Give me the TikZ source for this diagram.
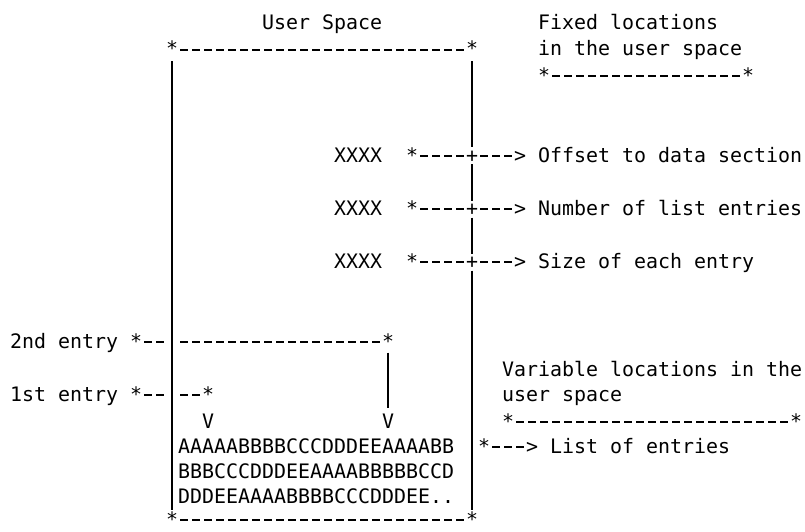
\documentclass[tikz,border=0pt]{standalone}
\usepackage{fontspec}
\usepackage{tikz}
\newfontfamily\mono{DejaVu Sans Mono}
\newcommand\asc{\mono\fontsize{19.93pt}{24pt}\selectfont}

\begin{document}
\begin{tikzpicture}[x=1pt,y=-1pt,
    every node/.style={font=\asc,inner sep=0pt},
    cell/.style={minimum width=12pt,text height=14.6pt,text depth=2pt,anchor=base},
    lowcell/.style={cell,text height=12.6pt,text depth=0pt},
    lbl/.style={anchor=base west},
    dashln/.style={line width=1.9pt,dash pattern=on 7.5pt off 4.5pt,dash phase=9.75pt},
    bar/.style={line width=2pt}]
\useasboundingbox (0,0) rectangle (805,531);

\node[lbl] (title) at (262,29.3) {User Space};
\node[lbl] (fixtxt) at (538,29.3) {Fixed locations};
\node[lbl] (fixtxt2) at (538,55.9) {in the user space};

\node[cell] (tl) at (172,55.9) {*};
\node[cell] (tr) at (472,55.9) {*};
\node[lowcell] (bl) at (172,526) {*};
\node[lowcell] (br) at (472,526) {*};
\draw[dashln] (tl.east) -- (tr.west);
\draw[dashln] (bl.east) -- (br.west);

\node[cell] (fx1) at (544,82.5) {*};
\node[cell] (fx2) at (748,82.5) {*};
\draw[dashln] (fx1.east) -- (fx2.west);

\node[lbl] (x1) at (334,162) {XXXX};
\node[cell] (s1) at (412,162) {*};
\node[cell] (p1) at (472,162) {+};
\node[cell] (g1) at (520,162) {>};
\node[lbl] (t1) at (538,162) {Offset to data section};
\node[lbl] (x2) at (334,215.3) {XXXX};
\node[cell] (s2) at (412,215.3) {*};
\node[cell] (p2) at (472,215.3) {+};
\node[cell] (g2) at (520,215.3) {>};
\node[lbl] (t2) at (538,215.3) {Number of list entries};
\node[lbl] (x3) at (334,268.5) {XXXX};
\node[cell] (s3) at (412,268.5) {*};
\node[cell] (p3) at (472,268.5) {+};
\node[cell] (g3) at (520,268.5) {>};
\node[lbl] (t3) at (538,268.5) {Size of each entry};
\draw[dashln] (s1.east) -- (p1.west);
\draw[dashln] (p1.east) -- (g1.west);
\draw[dashln] (s2.east) -- (p2.west);
\draw[dashln] (p2.east) -- (g2.west);
\draw[dashln] (s3.east) -- (p3.west);
\draw[dashln] (p3.east) -- (g3.west);

\draw[bar,shorten <=3pt,shorten >=3pt] (tl.south) -- (bl.north);
\draw[bar,shorten <=3pt] (tr.south) -- (p1.north);
\draw[bar] (p1.south) -- (p2.north);
\draw[bar] (p2.south) -- (p3.north);
\draw[bar,shorten >=3pt] (p3.south) -- (br.north);

\node[lbl] (e2txt) at (10,348.5) {2nd entry};
\node[cell] (e2s) at (136,348.5) {*};
\node[cell] (e2e) at (388,348.5) {*};
\node[lbl] (e1txt) at (10,401.7) {1st entry};
\node[cell] (e1s) at (136,401.7) {*};
\node[cell] (e1e) at (208,401.7) {*};
\draw[dashln] (e2s.east) -- (e2s.east -| tl.west);
\draw[dashln] (e2e.west -| tl.east) -- (e2e.west);
\draw[dashln] (e1s.east) -- (e1s.east -| tl.west);
\draw[dashln] (e1e.west -| tl.east) -- (e1e.west);

\node[cell] (v1) at (208,428.3) {V};
\node[cell] (v2) at (388,428.3) {V};
\draw[bar,shorten <=2pt,shorten >=6pt] (e2e.south) -- (v2.north);

\node[lbl] (row1) at (178,453.3) {AAAAABBBBCCCDDDEEAAAABB};
\node[lbl] (row2) at (178,478.3) {BBBCCCDDDEEAAAABBBBBCCD};
\node[lbl] (row3) at (178,503.3) {DDDEEAAAABBBBCCCDDDEE..};

\node[lbl] (vartxt) at (502,376) {Variable locations in the};
\node[lbl] (vartxt2) at (502,401.7) {user space};
\node[cell] (va1) at (508,428.3) {*};
\node[cell] (va2) at (796,428.3) {*};
\draw[dashln] (va1.east) -- (va2.west);

\node[cell] (ls) at (484,453.3) {*};
\node[cell] (lg) at (532,453.3) {>};
\node[lbl] (ltxt) at (550,453.3) {List of entries};
\draw[dashln] (ls.east) -- (lg.west);
\end{tikzpicture}
\end{document}
